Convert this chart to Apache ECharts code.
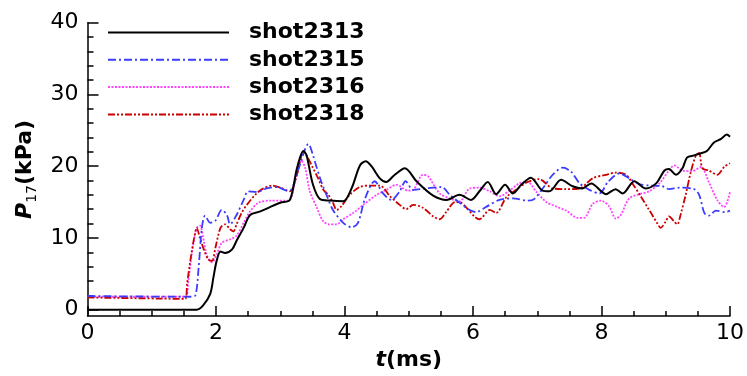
<!DOCTYPE html>
<html>
<head>
<meta charset="utf-8">
<script src="https://cdn.jsdelivr.net/npm/echarts@6/dist/echarts.min.js"></script>
<style>html,body{margin:0;padding:0;background:#fff;}#c{width:747px;height:376px;}</style>
</head>
<body>
<div id="c"></div>
<script>
// ---- data ----
const seriesNames = ['shot2313', 'shot2315', 'shot2316', 'shot2318'];

const t2313 = [0, 1.70, 1.80, 1.91, 1.96, 2.01, 2.07, 2.14, 2.25, 2.32, 2.43, 2.53, 2.69, 2.84, 3.0, 3.15, 3.26, 3.36, 3.41, 3.51, 3.62, 3.77, 3.98, 4.11, 4.24, 4.33, 4.42, 4.55, 4.65, 4.77, 4.94, 5.12, 5.38, 5.59, 5.79, 5.97, 6.1, 6.23, 6.36, 6.5, 6.62, 6.75, 6.9, 7.08, 7.19, 7.37, 7.55, 7.70, 7.84, 8.07, 8.22, 8.33, 8.51, 8.69, 8.85, 8.98, 9.05, 9.16, 9.26, 9.33, 9.44, 9.55, 9.64, 9.75, 9.86, 9.95, 10];
const v2313 = [0, 0, 0.6, 2.2, 4.5, 6.8, 8.1, 7.9, 8.4, 9.6, 11.4, 13.2, 13.7, 14.3, 14.9, 15.3, 19.7, 22.1, 21.5, 17.4, 15.4, 15.2, 15.1, 16.9, 20.1, 20.7, 20.0, 18.3, 17.8, 18.7, 19.7, 17.9, 15.9, 15.3, 16.0, 15.3, 16.5, 17.8, 16.1, 17.4, 16.2, 17.4, 18.4, 16.6, 16.5, 18.1, 17.2, 16.9, 17.6, 16.1, 16.8, 16.2, 17.9, 16.9, 17.6, 19.4, 19.6, 18.8, 19.7, 21.2, 21.5, 21.8, 22.1, 23.3, 23.8, 24.4, 24.1];

const t2315 = [0, 1.60, 1.68, 1.73, 1.78, 1.83, 1.91, 1.99, 2.09, 2.17, 2.22, 2.32, 2.43, 2.50, 2.63, 2.79, 2.95, 3.10, 3.18, 3.28, 3.44, 3.51, 3.62, 3.72, 3.82, 3.98, 4.11, 4.21, 4.32, 4.47, 4.60, 4.73, 4.86, 4.95, 5.07, 5.27, 5.51, 5.64, 5.79, 5.95, 6.05, 6.2, 6.41, 6.62, 6.85, 6.95, 7.11, 7.24, 7.40, 7.53, 7.66, 7.81, 7.97, 8.10, 8.28, 8.43, 8.59, 8.75, 8.95, 9.05, 9.21, 9.44, 9.52, 9.60, 9.67, 9.78, 9.93, 10];
const v2315 = [1.9, 1.8, 2.0, 5.9, 11.4, 13.1, 12.1, 12.4, 13.9, 13.2, 11.9, 13.2, 15.3, 16.5, 16.4, 16.9, 17.1, 16.6, 16.8, 19.5, 23.1, 21.5, 18.3, 16.0, 13.9, 12.1, 11.5, 12.1, 15.5, 17.9, 16.2, 15.3, 16.5, 17.9, 16.7, 16.9, 17.1, 16.0, 14.9, 13.9, 13.6, 14.3, 15.3, 15.5, 15.2, 15.4, 17.2, 18.8, 19.8, 19.2, 17.6, 16.7, 16.2, 17.8, 19.0, 18.3, 17.5, 17.3, 17.2, 16.8, 17.0, 16.8, 16.0, 13.5, 13.1, 13.8, 13.6, 13.8];

const t2316 = [0, 1.52, 1.57, 1.63, 1.70, 1.75, 1.81, 1.86, 1.94, 2.01, 2.09, 2.22, 2.32, 2.43, 2.53, 2.66, 2.84, 3.13, 3.23, 3.33, 3.39, 3.46, 3.57, 3.67, 3.77, 3.88, 3.98, 4.14, 4.29, 4.5, 4.65, 4.81, 4.99, 5.07, 5.22, 5.30, 5.48, 5.64, 5.79, 5.95, 6.1, 6.26, 6.41, 6.57, 6.72, 6.85, 6.98, 7.14, 7.29, 7.45, 7.63, 7.73, 7.86, 7.99, 8.12, 8.22, 8.30, 8.43, 8.59, 8.74, 8.90, 9.05, 9.13, 9.26, 9.41, 9.55, 9.67, 9.80, 9.91, 9.96, 10];
const v2316 = [1.8, 1.8, 4.1, 8.2, 11.4, 11.7, 9.6, 7.5, 6.6, 7.7, 9.3, 9.8, 10.3, 12.1, 13.7, 14.9, 15.2, 15.2, 17.9, 20.8, 19.7, 16.5, 14.2, 12.3, 11.9, 11.9, 12.6, 13.5, 14.6, 16.0, 16.7, 17.4, 16.6, 16.7, 18.8, 18.6, 16.2, 15.5, 15.1, 16.9, 17.0, 16.5, 15.8, 16.6, 17.6, 17.8, 16.5, 15.0, 14.4, 13.8, 12.8, 12.8, 14.7, 15.2, 14.4, 12.7, 13.2, 15.5, 16.1, 16.5, 17.6, 19.4, 20.1, 19.4, 19.3, 19.9, 17.8, 15.3, 14.3, 15.1, 16.4];

const t2318 = [0, 1.52, 1.55, 1.60, 1.66, 1.70, 1.75, 1.81, 1.88, 1.94, 1.99, 2.07, 2.14, 2.22, 2.27, 2.32, 2.40, 2.48, 2.63, 2.74, 2.87, 3.0, 3.15, 3.26, 3.36, 3.41, 3.49, 3.59, 3.67, 3.75, 3.82, 3.88, 3.95, 4.08, 4.24, 4.39, 4.55, 4.71, 4.86, 4.96, 5.07, 5.22, 5.38, 5.48, 5.59, 5.72, 5.79, 5.90, 6.02, 6.10, 6.26, 6.36, 6.52, 6.67, 6.85, 7.03, 7.24, 7.45, 7.66, 7.86, 8.07, 8.22, 8.38, 8.51, 8.61, 8.72, 8.79, 8.87, 8.92, 9.0, 9.05, 9.13, 9.18, 9.23, 9.31, 9.39, 9.47, 9.52, 9.57, 9.67, 9.80, 9.91, 10];
const v2318 = [1.7, 1.5, 3.6, 6.8, 10.0, 11.4, 10.0, 8.4, 7.0, 6.8, 8.6, 11.4, 11.9, 11.2, 10.9, 11.9, 13.5, 14.6, 16.2, 16.9, 17.3, 17.0, 16.5, 18.8, 22.0, 21.5, 20.1, 18.3, 16.7, 16.0, 14.9, 13.9, 14.4, 16.0, 17.1, 17.3, 17.3, 15.8, 14.6, 14.0, 14.6, 14.2, 13.0, 12.6, 13.7, 15.0, 15.0, 14.2, 13.0, 12.6, 13.9, 13.5, 15.7, 16.7, 17.8, 18.2, 16.9, 16.8, 16.9, 18.3, 18.8, 19.1, 18.8, 17.2, 15.8, 14.2, 13.2, 12.0, 11.4, 12.3, 13.0, 12.3, 11.9, 13.2, 16.0, 19.2, 21.5, 21.8, 19.7, 19.4, 18.8, 19.9, 20.4];

const yMajorTicks = [0, 10, 20, 30, 40];
const yMinorTicks = [2, 4, 6, 8, 12, 14, 16, 18, 22, 24, 26, 28, 32, 34, 36, 38];

// ---- build ----
function pairs(t, v) { return t.map((x, i) => [x, v[i]]); }
const FONT = 'DejaVu Sans';

const chart = echarts.init(document.getElementById('c'), null, { renderer: 'canvas' });
const mk = (name, t, v, color, width, type) => ({
  name, type: 'line', data: pairs(t, v), symbol: 'none', smooth: 0.3,
  lineStyle: { color, width, type }, itemStyle: { color }
});

chart.setOption({
  animation: false,
  backgroundColor: '#fff',
  grid: { left: 87.5, right: 16, top: 22.7, bottom: 56.7, containLabel: false },
  legend: {
    data: seriesNames,
    orient: 'vertical', left: 107, top: 21.5, padding: 0,
    itemWidth: 121, itemHeight: 20, itemGap: 5.3,
    itemStyle: { opacity: 0 },
    textStyle: { fontFamily: FONT, fontSize: 22, fontWeight: 'bold', color: '#000', lineHeight: 20, padding: [0, 0, 0, 15] }
  },
  xAxis: {
    type: 'value', min: 0, max: 10, interval: 2,
    axisLine: { show: true, onZero: false, lineStyle: { color: '#000', width: 1.5 } },
    axisTick: { show: true, inside: true, length: 10, lineStyle: { color: '#000', width: 1.5 } },
    minorTick: { show: true, splitNumber: 4, length: 5, lineStyle: { color: '#000', width: 1.5 } },
    splitLine: { show: false },
    axisLabel: { fontFamily: FONT, fontSize: 22, color: '#000', margin: 6 },
    name: '{t|t}{b|(ms)}', nameLocation: 'middle', nameGap: 27,
    nameTextStyle: { rich: {
      t: { fontFamily: FONT, fontSize: 22, fontWeight: 'bold', fontStyle: 'italic', color: '#000' },
      b: { fontFamily: FONT, fontSize: 22, fontWeight: 'bold', color: '#000' }
    } }
  },
  yAxis: [{
    type: 'value', min: -0.9, max: 40,
    axisLine: { show: true, lineStyle: { color: '#000', width: 1.5 } },
    axisTick: { show: true, inside: true, length: 11, customValues: yMajorTicks, lineStyle: { color: '#000', width: 1.5 } },
    splitLine: { show: false },
    axisLabel: { fontFamily: FONT, fontSize: 22, color: '#000', margin: 9, customValues: yMajorTicks },
    name: '{p|P}{s|17}{b|(kPa)}', nameLocation: 'middle', nameGap: 46, nameRotate: 90,
    nameTextStyle: { rich: {
      p: { fontFamily: FONT, fontSize: 22, fontWeight: 'bold', fontStyle: 'italic', color: '#000', lineHeight: 26 },
      s: { fontFamily: FONT, fontSize: 14, color: '#000', padding: [14, 0, 0, 0], lineHeight: 16 },
      b: { fontFamily: FONT, fontSize: 22, fontWeight: 'bold', color: '#000', lineHeight: 26 }
    } }
  }, {
    type: 'value', min: -0.9, max: 40, position: 'left',
    axisLine: { show: false },
    axisTick: { show: true, inside: true, length: 6, customValues: yMinorTicks, lineStyle: { color: '#000', width: 1.5 } },
    axisLabel: { show: false },
    splitLine: { show: false }
  }],
  series: [
    mk('shot2316', t2316, v2316, '#ff44ff', 1.8, [2, 1.5]),
    mk('shot2318', t2318, v2318, '#cc0000', 1.8, [7, 2, 2, 2, 2, 2]),
    mk('shot2315', t2315, v2315, '#3c3cff', 1.8, [8, 3, 2, 3]),
    mk('shot2313', t2313, v2313, '#000000', 2, 'solid')
  ]
});
</script>
</body>
</html>
